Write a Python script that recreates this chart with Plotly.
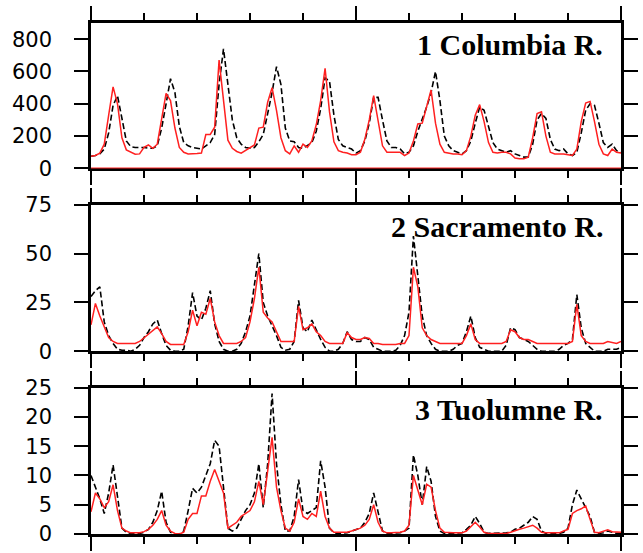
import plotly.graph_objects as go

# month index (10 years of monthly values)
months = list(range(121))

# 1 Columbia R.
columbia_red = [75, 80, 95, 150, 330, 505, 400, 190, 115, 100, 88, 90,
                130, 145, 125, 150, 300, 465, 420, 250, 130, 100, 90, 90,
                92, 95, 210, 210, 255, 670, 430, 175, 125, 105, 95, 110,
                130, 145, 250, 255, 410, 500, 360, 190, 110, 90, 140, 100,
                150, 130, 170, 270, 420, 620, 350, 165, 110, 100, 95, 85,
                85, 100, 180, 300, 450, 300, 140, 100, 100, 100, 100, 80,
                95, 170, 275, 280, 380, 485, 280, 150, 100, 95, 90, 90,
                85, 110, 200, 330, 395, 290, 160, 100, 95, 100, 100, 90,
                65, 60, 60, 70, 190, 340, 350, 200, 100, 90, 90, 90,
                85, 80, 120, 290, 405, 415, 290, 150, 90, 80, 120, 100,
                95]
columbia_dash = [75, 80, 90, 120, 220, 390, 450, 300, 170, 135, 130, 130,
                 130, 125, 125, 140, 250, 400, 555, 470, 260, 160, 140, 130,
                 125, 120, 140, 160, 210, 520, 740, 500, 300, 190, 150, 130,
                 125, 130, 165, 210, 330, 470, 630, 520, 250, 170, 165, 130,
                 125, 140, 160, 230, 370, 560, 540, 330, 180, 140, 130, 120,
                 95, 110, 170, 280, 440, 440, 300, 170, 130, 130, 120, 90,
                 100, 140, 230, 300, 380, 470, 600, 420, 200, 140, 110, 100,
                 90, 110, 170, 280, 380, 360, 260, 160, 120, 110, 100, 110,
                 90, 80, 70, 70, 150, 300, 340, 310, 180, 120, 110, 120,
                 90, 80, 100, 220, 360, 400, 390, 280, 160, 130, 150, 110,
                 100]

# 2 Sacramento R.
sacramento_red = [13.5, 24.5, 18, 12, 7, 5, 4, 4, 4, 4, 4, 5,
                  7, 9, 11, 12.5, 9, 5, 3.5, 3.5, 3.5, 3.5, 10, 21,
                  13, 20, 19, 27, 15, 8, 4, 4, 4, 4, 5, 7,
                  15, 27, 43, 20, 17, 15, 10, 5, 5, 5, 5, 23,
                  11, 12, 14, 10, 8, 5, 4, 4, 4, 4, 9.5, 7,
                  6, 6, 7, 6.5, 4, 4, 3.5, 3.5, 3.5, 3.5, 4, 4,
                  8, 43, 33, 12, 8, 6, 5, 4, 4, 4, 4, 4,
                  4, 8, 14, 6, 4, 4, 4, 4, 4, 4, 5, 11,
                  10, 7, 6, 6, 5, 4, 4, 4, 4, 4, 4, 4,
                  4, 5, 24, 8, 5, 4, 4, 4, 4, 5, 4.5, 4,
                  5]
sacramento_dash = [28, 31, 33, 15, 8, 4, 1, 0.5, 0.5, 0, 1, 3,
                   7, 10, 14, 16, 9, 3, 0.5, 0, 0, 1, 13, 30,
                   18, 16, 22, 31, 14, 5, 1, 0, 0, 1, 4, 10,
                   18, 33, 50, 25, 18, 13, 8, 2, 0.5, 1, 5, 26,
                   12, 10, 16, 11, 6, 2, 0, 0, 1, 4, 10, 6,
                   5, 5, 7, 6, 2, 1, 0, 0, 0, 0.5, 3, 8,
                   20, 59, 40, 18, 8, 4, 1, 0, 0, 0, 1, 3,
                   4, 10, 18, 7, 2, 1, 0, 0, 0, 0, 3, 12,
                   11, 7, 6, 5, 3, 1, 0, 0, 0, 0, 1, 3,
                   4, 6, 29, 12, 4, 2, 0, 0, 0, 1, 1, 1,
                   2]

# 3 Tuolumne R.
tuolumne_red = [3.8, 7, 6, 4.5, 5.5, 8.4, 4, 1, 0.5, 0.2, 0.2, 0.2,
                0.4, 0.8, 1.5, 2.5, 4, 1.5, 0.5, 0.1, 0, 0.3, 2.5, 3.5,
                3.5, 6.5, 6.5, 9, 11, 9, 7, 1, 1.5, 2, 3, 3.5,
                4, 5.5, 9, 5, 11, 16.5, 8, 4, 1, 0.5, 2, 6,
                3, 2.5, 3.5, 3, 7.3, 3, 1, 0.3, 0.3, 0.3, 0.3, 0.5,
                0.8, 1, 1.5, 2.5, 5, 2, 0.5, 0.2, 0.2, 0.2, 0.3, 0.5,
                1.5, 10, 7.5, 5, 8.5, 8, 4, 1, 0.3, 0.2, 0.2, 0.2,
                0.2, 0.5, 1.2, 2, 1.2, 0.3, 0.1, 0.1, 0.1, 0.1, 0.1, 0.3,
                0.6, 0.8, 1, 1.2, 1.5, 1, 0.3, 0.2, 0.2, 0.2, 0.2, 0.5,
                0.8, 3.5, 4, 4.3, 4.8, 2.5, 0.3, 0.2, 0.5, 0.7, 0.4, 0.3,
                0.3]
tuolumne_dash = [10, 8, 6, 3.5, 7, 11.8, 6, 1, 0.3, 0.1, 0.1, 0.1,
                 0.3, 0.8, 2, 4, 7.3, 2, 0.3, 0, 0, 0.5, 4, 7.8,
                 7, 8, 10, 12, 16, 15, 8, 1, 0.5, 1, 2.5, 4,
                 5, 7, 12, 4.5, 12, 24, 12, 5, 0.5, 0.5, 3, 9.3,
                 4, 3.5, 4, 4.5, 12.5, 8, 1, 0.2, 0.1, 0.1, 0.2, 0.5,
                 0.8, 1, 2, 3.5, 7, 4, 0.5, 0.1, 0.1, 0.1, 0.2, 0.5,
                 1, 13.5, 10, 5, 11.5, 9, 3, 0.5, 0.1, 0.1, 0.1, 0.1,
                 0.2, 0.8, 1.5, 3, 1.8, 0.3, 0.1, 0.1, 0.1, 0.1, 0.2, 0.3,
                 0.8, 1, 1.5, 2, 3, 2.5, 0.5, 0.1, 0.1, 0.1, 0.1, 0.3,
                 1, 5, 7.5, 6, 4.5, 3, 0.3, 0.1, 0.2, 0.5, 0.3, 0.1,
                 0.1]

titles = ["1 Columbia R.", "2 Sacramento R.", "3 Tuolumne R."]
y_ranges = [[0, 900], [0, 75], [0, 25]]
y_dticks = [200, 25, 5]
panels = [(columbia_dash, columbia_red),
          (sacramento_dash, sacramento_red),
          (tuolumne_dash, tuolumne_red)]

# layout geometry (pixels)
W, H = 643, 553
ml, mr, mt, mb = 91, 5, 23, 10
ph = H - mt - mb
panel_px = [(23, 171), (208, 357), (394, 543)]  # top, bottom in pixels
def py(p):
    return (H - mb - p) / ph

fig = go.Figure()
for i, (dash, red) in enumerate(panels):
    xa = "x" if i == 0 else f"x{i+1}"
    ya = "y" if i == 0 else f"y{i+1}"
    fig.add_trace(go.Scatter(x=months, y=dash, mode="lines", xaxis=xa, yaxis=ya,
                             line=dict(color="black", width=1.6, dash="6px,3px"),
                             showlegend=False, hoverinfo="skip"))
    fig.add_trace(go.Scatter(x=months, y=red, mode="lines", xaxis=xa, yaxis=ya,
                             line=dict(color="#ff2020", width=1.5),
                             showlegend=False, hoverinfo="skip"))

axis_common = dict(showline=True, linecolor="black", linewidth=2.5, mirror="ticks",
                   ticks="outside", tickcolor="black", tickwidth=1.5,
                   showgrid=False, zeroline=False)

layout = dict(width=W, height=H, margin=dict(l=ml, r=mr, t=mt, b=mb),
              plot_bgcolor="white", paper_bgcolor="white", showlegend=False)

annotations = []
for i in range(3):
    top, bot = panel_px[i]
    xk = "xaxis" if i == 0 else f"xaxis{i+1}"
    yk = "yaxis" if i == 0 else f"yaxis{i+1}"
    layout[xk] = dict(axis_common, range=[0, 120], tick0=0, dtick=60, ticklen=14,
                      showticklabels=False,
                      minor=dict(dtick=12, tick0=0, ticklen=7, ticks="outside",
                                 tickcolor="black", tickwidth=1.5, showgrid=False),
                      anchor="y" if i == 0 else f"y{i+1}")
    layout[yk] = dict(axis_common, range=y_ranges[i], tick0=0, dtick=y_dticks[i],
                      ticklen=14, ticklabelstandoff=18,
                      tickfont=dict(family="DejaVu Sans", size=21, color="black"),
                      domain=[py(bot), py(top)],
                      anchor="x" if i == 0 else f"x{i+1}")
    annotations.append(dict(text="<b>" + titles[i] + "</b>", xref="paper", yref="paper",
                            x=(622 - ml) / (W - ml - mr), y=py(top + 22),
                            xanchor="right", yanchor="middle", showarrow=False,
                            font=dict(family="Liberation Serif, Times New Roman, Times, serif",
                                      size=30, color="black")))

layout["annotations"] = annotations
layout["shapes"] = [dict(type="line", xref="x", yref="y", x0=months[0], x1=months[-1],
                         y0=0, y1=0, line=dict(color="#ff2020", width=2), layer="above")]
fig.update_layout(**layout)
fig.write_html("out.html")
